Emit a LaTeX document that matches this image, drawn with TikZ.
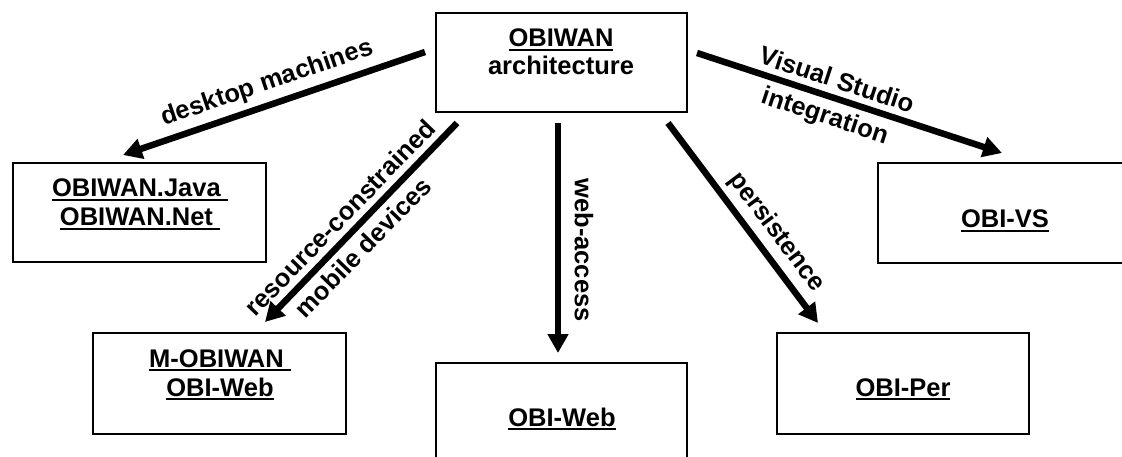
\documentclass[tikz,border=0pt]{standalone}
\usepackage{fontspec}
\setmainfont{Liberation Sans}
\usetikzlibrary{arrows.meta}
\newcommand\myul[1]{\setbox0=\hbox{#1}\rlap{\rule[-4pt]{\wd0}{1.9pt}}\box0}
\begin{document}
\begin{tikzpicture}[x=1pt,y=-1pt,
  box/.style={draw, line width=1.5pt, inner sep=0pt},
  txt/.style={font=\bfseries\fontsize{25.5}{30}\selectfont, inner sep=0pt, anchor=base},
  arr/.style={line width=6.5pt, -{Triangle[length=19pt,width=20pt]}},
  lbl/.style={font=\bfseries\fontsize{25.5}{30}\selectfont, sloped, inner sep=6pt}]
\useasboundingbox (0,0) rectangle (1122,457);
\clip (0,0) rectangle (1122,457);
% boxes
\node[box, minimum width=251pt, minimum height=99pt]  (top) at (561.5,62.5) {};
\node[box, minimum width=253pt, minimum height=99pt]  (left) at (139.5,212.5) {};
\node[box, minimum width=253pt, minimum height=101pt] (mob) at (219.5,383.5) {};
\node[box, minimum width=251pt, minimum height=107pt] (web) at (561.5,416.5) {};
\node[box, minimum width=252pt, minimum height=101pt] (per) at (903,383.5) {};
\node[box, minimum width=262pt, minimum height=100pt] (vs) at (1009,213) {};
% box texts
\node[txt] (t1) at (561,47) {\myul{OBIWAN}};
\node[txt] (t2) at (561,75) {architecture};
\node[txt] (l1) at (140,197) {\myul{OBIWAN.Java\ }};
\node[txt] (l2) at (140,226) {\myul{OBIWAN.Net\ }};
\node[txt] (m1) at (220,367) {\myul{M-OBIWAN\ }};
\node[txt] (m2) at (220,396) {\myul{OBI-Web}};
\node[txt] (w1) at (562,426) {\myul{OBI-Web}};
\node[txt] (p1) at (903,396) {\myul{OBI-Per}};
\node[txt] (v1) at (1005,228) {\myul{OBI-VS}};
% arrow end points
\coordinate (dS) at (425,52);  \coordinate (dE) at (123,155);
\coordinate (rS) at (457,123); \coordinate (rE) at (265,322);
\coordinate (wS) at (558,123); \coordinate (wE) at (558,353);
\coordinate (pS) at (668,123); \coordinate (pE) at (818,323);
\coordinate (vS) at (697,53);  \coordinate (vE) at (1002,153);
% arrows
\draw[arr] (dS) -- node[lbl, pos=0.5, above] (ldesk) {desktop machines} (dE);
\draw[arr] (rS) -- node[lbl, pos=0.54, above] (lres) {resource-constrained}
                   node[lbl, pos=0.56, below] (lmob) {mobile devices} (rE);
\draw[arr] (wS) -- (wE);
\node[font=\bfseries\fontsize{25.5}{30}\selectfont, rotate=-90, inner sep=0pt] (lweb) at (584,250) {web-access};
\draw[arr] (pS) -- node[lbl, pos=0.61, above] (lper) {persistence} (pE);
\draw[arr] (vS) -- node[lbl, pos=0.44, above] (lvs1) {Visual Studio}
                   node[lbl, pos=0.44, below] (lvs2) {integration} (vE);
\end{tikzpicture}
\end{document}
